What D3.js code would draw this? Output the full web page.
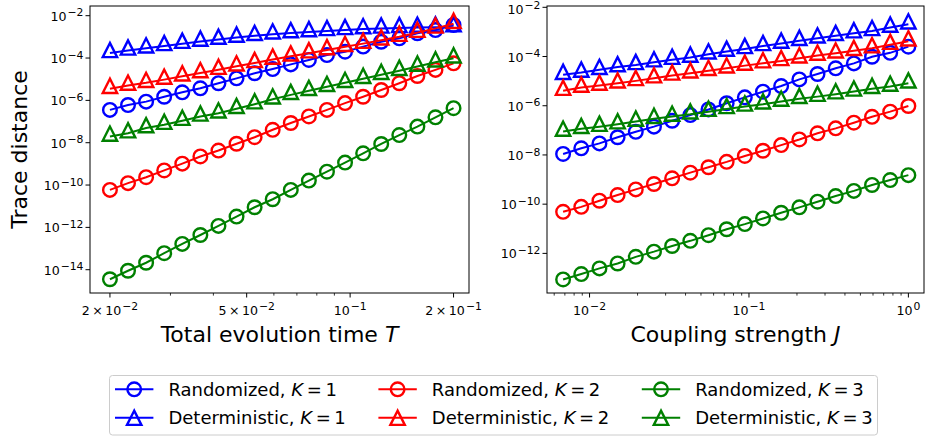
<!DOCTYPE html>
<html lang="en">
<head>
<meta charset="UTF-8">
<title>Trace distance vs T and J</title>
<script src="https://d3js.org/d3.v7.min.js"></script>
<style>
    body { margin: 0; background: #fff; }
    svg { display: block; font-family: "DejaVu Sans", sans-serif; }
    .tick-label { font-size: 12.6px; fill: #000; }
    .axis-label { font-size: 22px; fill: #000; }
    .legend-text { font-size: 18px; fill: #000; }
</style>
</head>
<body>
<svg id="chart" width="927" height="438"></svg>
<script>
// x values
const tValues = [0.02, 0.022577, 0.025486, 0.028770, 0.032476, 0.036660, 0.041384, 0.046716, 0.052735, 0.059529,
                 0.067199, 0.075857, 0.085630, 0.096663, 0.10912, 0.12317, 0.13904, 0.15696, 0.17718, 0.2];
const jValues = [0.006823, 0.008872, 0.011535, 0.014997, 0.019498, 0.025351, 0.032961, 0.042855, 0.055719, 0.072444,
                 0.094189, 0.12246, 0.15922, 0.20701, 0.26915, 0.34995, 0.45499, 0.59156, 0.76913, 1.0];

// trace distances, stored as log10
const tRandK1 = [-6.45, -6.22, -6.06, -5.83, -5.62, -5.43, -5.19, -4.96, -4.72, -4.52, -4.30, -4.09, -3.86, -3.70, -3.46, -3.23, -3.07, -2.83, -2.68, -2.44];
const tDetK1  = [-3.76, -3.64, -3.54, -3.43, -3.32, -3.22, -3.13, -3.03, -2.95, -2.88, -2.82, -2.77, -2.72, -2.67, -2.63, -2.60, -2.58, -2.56, -2.55, -2.54];
const tRandK2 = [-10.23, -9.91, -9.63, -9.31, -8.99, -8.65, -8.37, -8.05, -7.74, -7.39, -7.07, -6.76, -6.45, -6.13, -5.83, -5.51, -5.19, -4.85, -4.56, -4.25];
const tDetK2  = [-5.45, -5.30, -5.17, -5.02, -4.86, -4.71, -4.55, -4.39, -4.23, -4.07, -3.92, -3.77, -3.62, -3.47, -3.32, -3.16, -2.99, -2.80, -2.60, -2.38];
const tRandK3 = [-14.45, -14.05, -13.67, -13.22, -12.78, -12.36, -11.93, -11.49, -11.05, -10.67, -10.23, -9.79, -9.37, -8.94, -8.50, -8.06, -7.64, -7.24, -6.80, -6.37];
const tDetK3  = [-7.71, -7.55, -7.31, -7.15, -6.96, -6.76, -6.61, -6.40, -6.18, -5.95, -5.74, -5.55, -5.36, -5.17, -4.98, -4.79, -4.60, -4.40, -4.20, -4.01];

const jRandK1 = [-7.96, -7.73, -7.53, -7.28, -7.06, -6.85, -6.61, -6.38, -6.15, -5.90, -5.66, -5.43, -5.20, -4.93, -4.71, -4.48, -4.28, -4.01, -3.85, -3.60];
const jDetK1  = [-4.74, -4.65, -4.54, -4.43, -4.34, -4.23, -4.13, -4.04, -3.91, -3.80, -3.69, -3.57, -3.47, -3.36, -3.26, -3.16, -3.05, -2.96, -2.82, -2.69];
const jRandK2 = [-10.31, -10.11, -9.86, -9.63, -9.40, -9.18, -8.95, -8.72, -8.50, -8.28, -8.04, -7.83, -7.60, -7.37, -7.12, -6.92, -6.69, -6.45, -6.24, -6.01];
const jDetK2  = [-5.39, -5.26, -5.18, -5.09, -4.99, -4.88, -4.77, -4.68, -4.58, -4.48, -4.37, -4.27, -4.18, -4.07, -3.96, -3.87, -3.77, -3.66, -3.52, -3.38];
const jRandK3 = [-13.06, -12.84, -12.61, -12.41, -12.14, -11.93, -11.70, -11.49, -11.26, -11.02, -10.81, -10.58, -10.35, -10.13, -9.90, -9.67, -9.46, -9.22, -9.02, -8.82];
const jDetK3  = [-7.05, -6.94, -6.85, -6.75, -6.64, -6.53, -6.44, -6.35, -6.24, -6.13, -6.03, -5.94, -5.83, -5.72, -5.63, -5.53, -5.42, -5.31, -5.22, -5.09];

// tick labels
const tTicksMajor = [0.02, 0.05, 0.1, 0.2];
const tTickLabels = [["2", -2], ["5", -2], [null, -1], ["2", -1]];
const tTicksMinor = [0.03, 0.04, 0.06, 0.07, 0.08, 0.09];
const jTicksMajor = [0.01, 0.1, 1];
const jTickLabels = [[null, -2], [null, -1], [null, 0]];
const leftYExp = [-2, -4, -6, -8, -10, -12, -14];
const rightYExp = [-2, -4, -6, -8, -10, -12];

const seriesNames = ["Randomized", "Deterministic"];
const kValues = [1, 2, 3];
const colors = ["#0000ff", "#ff0000", "#008000"];

const series = [
    {kind: 0, k: 0, t: tRandK1, j: jRandK1},
    {kind: 1, k: 0, t: tDetK1, j: jDetK1},
    {kind: 0, k: 1, t: tRandK2, j: jRandK2},
    {kind: 1, k: 1, t: tDetK2, j: jDetK2},
    {kind: 0, k: 2, t: tRandK3, j: jRandK3},
    {kind: 1, k: 2, t: tDetK3, j: jDetK3}
];

const svg = d3.select("#chart");
const plotTop = 6, plotBottom = 293;

const panels = [
    {
        x: d3.scaleLog().domain([10 ** -1.757, 10 ** -0.654]).range([90, 469]),
        y: d3.scaleLog().domain([10 ** -15.10, 10 ** -1.542]).range([plotBottom, plotTop]),
        xs: tValues, key: "t", major: tTicksMajor, labels: tTickLabels, minor: tTicksMinor,
        yExp: leftYExp, label: ["Total evolution time ", "T"]
    },
    {
        x: d3.scaleLog().domain([10 ** -2.267, 10 ** 0.098]).range([547, 924]),
        y: d3.scaleLog().domain([10 ** -13.61, 10 ** -1.947]).range([plotBottom, plotTop]),
        xs: jValues, key: "j", major: jTicksMajor, labels: jTickLabels, minor: null,
        yExp: rightYExp, label: ["Coupling strength ", "J"]
    }
];

// marker shapes: circle, triangle centred on its centroid (as in the plot)
function markerPath(kind, legend) {
    if (kind === 0) return d3.arc()({innerRadius: 0, outerRadius: 6.8, startAngle: 0, endAngle: 2 * Math.PI});
    const off = legend ? 3 : 0;
    return `M0,${-10 + off}L-7.2,${4.2 + off}L7.2,${4.2 + off}Z`;
}

function powLabel(text, mant, exp) {
    text.append("tspan").text(mant ? mant + "\u2009\u00d7\u200910" : "10");
    text.append("tspan").attr("dx", 1).attr("dy", -4.3).style("font-size", "10.8px")
        .text(exp < 0 ? "\u2212" + (-exp) : String(exp));
}

panels.forEach((p, pi) => {
    const [x0, x1] = p.x.range();
    const g = svg.append("g");

    // series
    series.forEach(s => {
        const pts = p.xs.map((xv, i) => [p.x(xv), p.y(10 ** s[p.key][i])]);
        g.append("path")
            .attr("d", d3.line()(pts))
            .attr("fill", "none")
            .attr("stroke", colors[s.k])
            .attr("stroke-width", 2);
        g.selectAll(null).data(pts).enter().append("path")
            .attr("transform", d => `translate(${d[0]},${d[1]})`)
            .attr("d", markerPath(s.kind, false))
            .attr("fill", "none")
            .attr("stroke", colors[s.k])
            .attr("stroke-width", 2.4);
    });

    // frame
    g.append("rect")
        .attr("x", x0).attr("y", plotTop)
        .attr("width", x1 - x0).attr("height", plotBottom - plotTop)
        .attr("fill", "none").attr("stroke", "#000").attr("stroke-width", 1);

    // y ticks
    p.yExp.forEach(e => {
        const yy = p.y(10 ** e);
        g.append("line").attr("x1", x0 - 4.5).attr("x2", x0).attr("y1", yy).attr("y2", yy)
            .attr("stroke", "#000").attr("stroke-width", 1);
        const t = g.append("text").attr("class", "tick-label")
            .attr("x", x0 - 6.5).attr("y", Math.max(yy + 5, 13.5)).attr("text-anchor", "end");
        powLabel(t, null, e);
    });

    // x ticks
    p.major.forEach((v, i) => {
        const xx = p.x(v);
        g.append("line").attr("x1", xx).attr("x2", xx).attr("y1", plotBottom).attr("y2", plotBottom + 4.5)
            .attr("stroke", "#000").attr("stroke-width", 1);
        const t = g.append("text").attr("class", "tick-label")
            .attr("x", xx).attr("y", plotBottom + 21.5).attr("text-anchor", "middle");
        powLabel(t, p.labels[i][0], p.labels[i][1]);
    });
    let minor = p.minor;
    if (!minor) {
        const [d0, d1] = p.x.domain();
        minor = p.x.ticks(40).filter(v => v >= d0 && v <= d1 && !p.major.some(m => Math.abs(m - v) / m < 1e-6));
    }
    minor.forEach(v => {
        const xx = p.x(v);
        g.append("line").attr("x1", xx).attr("x2", xx).attr("y1", plotBottom).attr("y2", plotBottom + 2.6)
            .attr("stroke", "#000").attr("stroke-width", 0.8);
    });

    // x label
    const xl = g.append("text").attr("class", "axis-label")
        .attr("x", (x0 + x1) / 2).attr("y", 342).attr("text-anchor", "middle");
    xl.append("tspan").text(p.label[0]);
    xl.append("tspan").style("font-style", "italic").text(p.label[1]);

    if (pi === 0) {
        g.append("text").attr("class", "axis-label")
            .attr("transform", `translate(27,${(plotTop + plotBottom) / 2}) rotate(-90)`)
            .attr("text-anchor", "middle")
            .text("Trace distance");
    }
});

// legend
const lg = svg.append("g");
lg.append("rect")
    .attr("x", 109.5).attr("y", 375.5).attr("width", 768).attr("height", 59.5)
    .attr("rx", 3).attr("fill", "#fff").attr("stroke", "#cccccc").attr("stroke-width", 1);
series.forEach(s => {
    const hx = 115 + s.k * 263.4;
    const hy = s.kind === 0 ? 389.3 : 417.7;
    lg.append("line").attr("x1", hx).attr("x2", hx + 38.4).attr("y1", hy).attr("y2", hy)
        .attr("stroke", colors[s.k]).attr("stroke-width", 2);
    lg.append("path").attr("transform", `translate(${hx + 19.2},${hy})`)
        .attr("d", markerPath(s.kind, true))
        .attr("fill", "none").attr("stroke", colors[s.k]).attr("stroke-width", 2.4);
    const t = lg.append("text").attr("class", "legend-text")
        .attr("x", hx + 53.4).attr("y", hy).attr("dy", "0.36em");
    t.append("tspan").text(seriesNames[s.kind] + ", ");
    t.append("tspan").style("font-style", "italic").text("K");
    t.append("tspan").text("\u2009=\u2009" + kValues[s.k]);
});
</script>
</body>
</html>
